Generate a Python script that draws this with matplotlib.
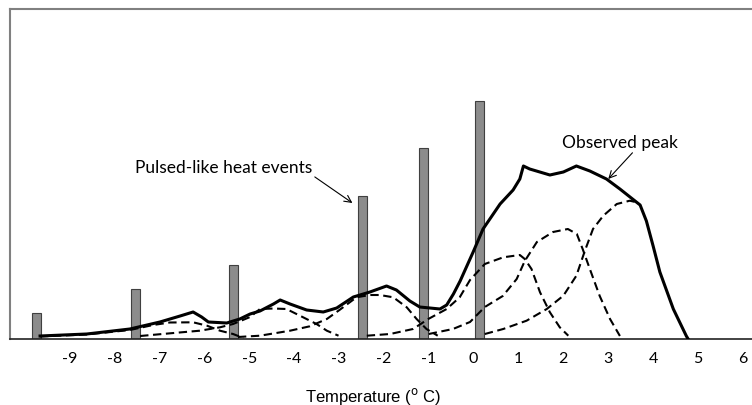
import numpy as np
import matplotlib
matplotlib.use("Agg")
import matplotlib.pyplot as plt

plt.rcParams['axes.unicode_minus'] = False

# pulsed-like heat events (bars)
bar_x = [-9.74, -7.54, -5.35, -2.48, -1.11, 0.13]
bar_h = [0.26, 0.50, 0.74, 1.43, 1.91, 2.38]

# observed peak (solid)
obs_x = [-9.66, -8.62, -7.66, -6.99, -6.54, -6.25, -6.06, -5.91, -5.50, -5.21,
         -4.98, -4.76, -4.46, -4.31, -4.09, -3.72, -3.35, -3.05, -2.68, -2.31,
         -1.94, -1.72, -1.42, -1.20, -0.75, -0.60, -0.45, -0.30, -0.16, -0.01,
         0.21, 0.59, 0.88, 1.03, 1.11, 1.25, 1.70, 2.00, 2.29, 2.59,
         2.96, 3.26, 3.71, 3.85, 4.00, 4.15, 4.45, 4.74, 4.78]
obs_y = [0.03, 0.05, 0.10, 0.17, 0.23, 0.27, 0.22, 0.17, 0.16, 0.20,
         0.25, 0.28, 0.35, 0.39, 0.35, 0.29, 0.27, 0.31, 0.42, 0.47,
         0.53, 0.49, 0.38, 0.32, 0.30, 0.34, 0.45, 0.58, 0.72, 0.87,
         1.10, 1.35, 1.49, 1.60, 1.73, 1.70, 1.64, 1.67, 1.73, 1.68,
         1.60, 1.50, 1.34, 1.18, 0.93, 0.67, 0.30, 0.03, 0.00]

# fitted components (dashed)
k1_x = [-9.66, -8.62, -7.66, -7.14, -6.77, -6.25, -5.94, -5.65, -5.36, -5.13]
k1_y = [0.025, 0.045, 0.09, 0.14, 0.165, 0.167, 0.133, 0.083, 0.05, 0.01]

k2_x = [-7.43, -6.76, -6.10, -5.65, -5.36, -4.98, -4.76, -4.46, -4.17, -3.87, -3.50, -3.27, -3.01]
k2_y = [0.03, 0.057, 0.083, 0.117, 0.15, 0.22, 0.30, 0.305, 0.30, 0.233, 0.15, 0.083, 0.033]

k3_x = [-5.25, -4.76, -4.09, -3.65, -3.27, -2.98, -2.61, -2.31, -2.09, -1.79, -1.49, -1.27, -1.05, -0.80]
k3_y = [0.02, 0.033, 0.083, 0.127, 0.20, 0.293, 0.417, 0.44, 0.44, 0.417, 0.317, 0.20, 0.10, 0.033]

k4_x = [-2.38, -1.86, -1.35, -1.01, -0.60, -0.31, -0.08, 0.25, 0.66, 1.03, 1.14, 1.29, 1.48, 1.70, 1.92, 2.11]
k4_y = [0.033, 0.05, 0.10, 0.20, 0.30, 0.417, 0.59, 0.75, 0.817, 0.84, 0.80, 0.70, 0.467, 0.267, 0.117, 0.033]

k5_x = [-1.00, -0.46, -0.08, 0.25, 0.65, 0.96, 1.14, 1.41, 1.77, 2.10, 2.30, 2.43, 2.59, 2.81, 3.04, 3.26]
k5_y = [0.05, 0.10, 0.17, 0.32, 0.43, 0.60, 0.78, 0.97, 1.07, 1.10, 1.05, 0.90, 0.70, 0.43, 0.20, 0.03]

k6_x = [0.25, 0.66, 1.18, 1.63, 2.00, 2.29, 2.48, 2.66, 2.89, 3.19, 3.48, 3.63]
k6_y = [0.05, 0.10, 0.183, 0.30, 0.433, 0.633, 0.883, 1.10, 1.233, 1.35, 1.383, 1.367]

ticks = list(range(-9, 7))

fig = plt.figure(figsize=(7.52, 4.06), dpi=100)
ax = fig.add_axes([10 / 752, 66 / 406, 745 / 752, 330 / 406])

ax.bar(bar_x, bar_h, width=0.2, color='#8c8c8c', edgecolor='#404040', linewidth=0.8, zorder=2)

for kx, ky in [(k1_x, k1_y), (k2_x, k2_y), (k3_x, k3_y), (k4_x, k4_y), (k5_x, k5_y), (k6_x, k6_y)]:
    ax.plot(kx, ky, color='black', lw=1.5, dashes=(4, 2.2), zorder=3)

ax.plot(obs_x, obs_y, color='black', lw=2.2, solid_joinstyle='round', zorder=4)

ax.set_xlim(-10.33, 6.27)
ax.set_ylim(0, 3.30)
ax.set_xticks(ticks)
ax.set_xticklabels([str(t) for t in ticks], fontfamily='Lato', fontsize=11.5)
ax.set_yticks([])
ax.tick_params(axis='x', length=0, pad=9)

for s in ['left', 'top']:
    ax.spines[s].set_color('#808080')
    ax.spines[s].set_linewidth(1.5)
ax.spines['right'].set_visible(False)
ax.spines['bottom'].set_color('#222222')
ax.spines['bottom'].set_linewidth(1.2)

ax.annotate('Pulsed-like heat events', xy=(-2.70, 1.36), xytext=(-7.55, 1.72),
            fontfamily='Lato', fontsize=12.5, va='center', ha='left',
            arrowprops=dict(arrowstyle='->', color='black', lw=0.8,
                            shrinkA=0, shrinkB=0, relpos=(1.0, 0.0)))
ax.annotate('Observed peak', xy=(3.00, 1.60), xytext=(1.97, 1.97),
            fontfamily='Lato', fontsize=12.5, va='center', ha='left',
            arrowprops=dict(arrowstyle='->', color='black', lw=0.8,
                            shrinkA=0, shrinkB=0, relpos=(0.63, 0.0)))

fig.text(373 / 752, 1 - 397 / 406, 'Temperature ($^{\\mathrm{o}}$ C)', ha='center', va='center',
         fontfamily='Liberation Sans', fontsize=12)

fig.savefig('out.png', dpi=100)
